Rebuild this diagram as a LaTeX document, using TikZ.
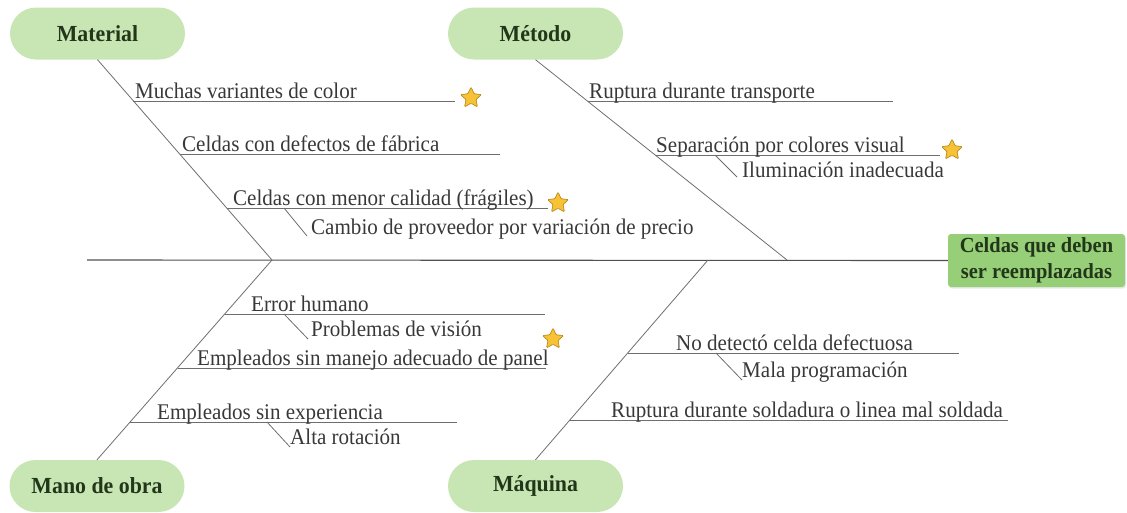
\documentclass[tikz,border=0pt]{standalone}
\usepackage{fontspec}
\setmainfont{Liberation Serif}
\newfontfamily\causefont[FakeStretch=0.94]{Liberation Serif}
\newfontfamily\headfont[FakeStretch=0.95]{Liberation Serif}
\usetikzlibrary{shapes.geometric,shadows}
\definecolor{pillfill}{HTML}{C8E6B3}
\definecolor{boxfill}{HTML}{96CF78}
\definecolor{headtxt}{HTML}{22361A}
\definecolor{bodytxt}{HTML}{383838}
\definecolor{linecol}{HTML}{6E6E6E}
\definecolor{spinecol}{HTML}{505050}
\definecolor{starfill}{HTML}{F7C236}
\definecolor{stardraw}{HTML}{B98A1E}
\tikzset{
  pill/.style={rounded corners=26pt, fill=pillfill, minimum width=175pt, minimum height=52pt,
    text=headtxt, font=\headfont\fontsize{23}{24}\selectfont\bfseries, inner sep=0pt},
  effbox/.style={rounded corners=3pt, fill=boxfill, minimum width=177pt, minimum height=53pt,
    text=headtxt, font=\headfont\fontsize{21.5}{25.5}\selectfont\bfseries, align=center, inner sep=0pt,
    drop shadow={opacity=0.18, shadow xshift=1pt, shadow yshift=-1.5pt}},
  cause/.style={anchor=base west, inner sep=0pt, text=bodytxt, font=\causefont\fontsize{22.4}{24}\selectfont},
  bone/.style={draw=linecol, line width=0.8pt},
  spine/.style={draw=spinecol, line width=1.1pt},
  sub/.style={draw=linecol, line width=0.8pt},
  starmark/.style={star, star points=5, star point ratio=2.1, minimum size=22pt, inner sep=0pt,
    fill=starfill, draw=stardraw, line width=0.7pt, rounded corners=1pt},
}
\begin{document}
\begin{tikzpicture}[x=1pt,y=-1pt]
\useasboundingbox (0,0) rectangle (1127,512);
% heads
\node[pill] (mat) at (97.5,33.5) {Material};
\node[pill] (met) at (535.5,33.5) {Método};
\node[pill] (mano) at (97,486) {Mano de obra};
\node[pill] (maq) at (535.5,486) {Máquina};
\node[effbox] (eff) at (1036.5,260.5) {Celdas que deben\\ser reemplazadas};
% spine
\coordinate (spL) at (87,260);
\draw[spine] (spL) -- (eff.west);
% bone ends on spine
\coordinate (matE) at (272,260);
\coordinate (metE) at (787,260);
\coordinate (manoE) at (272,260);
\coordinate (maqE) at (708,260);
\draw[bone] (mat.south) -- (matE);
\draw[bone] (met.south) -- (metE);
\draw[bone] (manoE) -- (mano.north);
\draw[bone] (maqE) -- (maq.north);
% Material causes
\coordinate (m1a) at (133.3,101); \coordinate (m1b) at (455,101);
\coordinate (m2a) at (179.5,154); \coordinate (m2b) at (500,154);
\coordinate (m3a) at (226.6,208); \coordinate (m3b) at (548,208);
\coordinate (m4a) at (284,208); \coordinate (m4b) at (307,236);
\draw[sub] (m1a) -- (m1b);
\draw[sub] (m2a) -- (m2b);
\draw[sub] (m3a) -- (m3b);
\draw[sub] (m4a) -- (m4b);
\node[cause] (tm1) at (135,98) {Muchas variantes de color};
\node[cause] (tm2) at (182,151) {Celdas con defectos de fábrica};
\node[cause] (tm3) at (233,205) {Celdas con menor calidad (frágiles)};
\node[cause] (tm4) at (311,234) {Cambio de proveedor por variación de precio};
\node[starmark] (s1) at (471,98) {};
\node[starmark] (s2) at (558,203) {};
% Metodo causes
\coordinate (t1a) at (587.5,101); \coordinate (t1b) at (893,101);
\coordinate (t2a) at (655.2,155); \coordinate (t2b) at (940,155);
\coordinate (t3a) at (715,155); \coordinate (t3b) at (737,177);
\draw[sub] (t1a) -- (t1b);
\draw[sub] (t2a) -- (t2b);
\draw[sub] (t3a) -- (t3b);
\node[cause] (tt1) at (589,98) {Ruptura durante transporte};
\node[cause] (tt2) at (656,152) {Separación por colores visual};
\node[cause] (tt3) at (742,177) {Iluminación inadecuada};
\node[starmark] (s3) at (952,150) {};
% Mano de obra causes
\coordinate (h1a) at (224.75,314); \coordinate (h1b) at (545,314);
\coordinate (h2a) at (284,314); \coordinate (h2b) at (308,339);
\coordinate (h3a) at (177.5,368); \coordinate (h3b) at (546,368);
\coordinate (h4a) at (130.25,422); \coordinate (h4b) at (457,422);
\coordinate (h5a) at (267,422); \coordinate (h5b) at (290,447);
\draw[sub] (h1a) -- (h1b);
\draw[sub] (h2a) -- (h2b);
\draw[sub] (h3a) -- (h3b);
\draw[sub] (h4a) -- (h4b);
\draw[sub] (h5a) -- (h5b);
\node[cause] (th1) at (251,311) {Error humano};
\node[cause] (th2) at (311,336) {Problemas de visión};
\node[cause] (th3) at (197,365) {Empleados sin manejo adecuado de panel};
\node[cause] (th4) at (157,419) {Empleados sin experiencia};
\node[cause] (th5) at (290,444) {Alta rotación};
\node[starmark] (s4) at (553,339) {};
% Maquina causes
\coordinate (q1a) at (627.8,353); \coordinate (q1b) at (959,353);
\coordinate (q2a) at (716,353); \coordinate (q2b) at (742,380);
\coordinate (q3a) at (570,420); \coordinate (q3b) at (1008,420);
\draw[sub] (q1a) -- (q1b);
\draw[sub] (q2a) -- (q2b);
\draw[sub] (q3a) -- (q3b);
\node[cause] (tq1) at (676,350) {No detectó celda defectuosa};
\node[cause] (tq2) at (742,377) {Mala programación};
\node[cause] (tq3) at (611,417) {Ruptura durante soldadura o linea mal soldada};
\end{tikzpicture}
\end{document}
